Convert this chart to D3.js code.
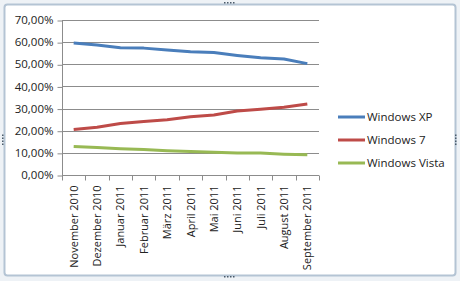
<!DOCTYPE html>
<html>
<head>
<meta charset="utf-8">
<script src="https://cdn.jsdelivr.net/npm/d3@7"></script>
<style>
  body { margin: 0; background: #fff; }
  svg { display: block; }
</style>
</head>
<body>
<div id="chart"></div>
<script>
var months = ["November 2010", "Dezember 2010", "Januar 2011", "Februar 2011", "März 2011",
  "April 2011", "Mai 2011", "Juni 2011", "Juli 2011", "August 2011", "September 2011"];
var windowsXP = [59.6, 58.7, 57.5, 57.3, 56.5, 55.7, 55.3, 54.0, 52.9, 52.4, 50.3];
var windows7 = [20.5, 21.6, 23.3, 24.2, 25.0, 26.3, 27.1, 28.9, 29.7, 30.6, 32.1];
var windowsVista = [12.9, 12.4, 11.9, 11.5, 11.0, 10.6, 10.3, 9.9, 9.9, 9.4, 9.1];
var yTicks = [0, 10, 20, 30, 40, 50, 60, 70];

var series = [
  { name: "Windows XP", values: windowsXP, color: "#4a7ebb" },
  { name: "Windows 7", values: windows7, color: "#be4b48" },
  { name: "Windows Vista", values: windowsVista, color: "#98b954" }
];

const W = 460, H = 281;
const margin = { top: 20, left: 62, right: 141, bottom: 106 };

const svg = d3.select("#chart").append("svg")
  .attr("width", W).attr("height", H);

// excel frame around the chart
svg.append("rect").attr("x", 0).attr("y", 0).attr("width", W).attr("height", H).attr("fill", "#eef2f6");
svg.append("rect")
  .attr("x", 4.5).attr("y", 4.5).attr("width", W - 9).attr("height", H - 10)
  .attr("rx", 3).attr("fill", "#fff").attr("stroke", "#b4c4d4").attr("stroke-width", 2);
[[W / 2, 3], [W / 2, H - 4]].forEach(p => {
  for (let i = -2; i < 2; i++) {
    svg.append("rect").attr("x", p[0] + i * 3).attr("y", p[1] - 1).attr("width", 1.5).attr("height", 1.5).attr("fill", "#4a5a6a");
  }
});
[[3, H / 2], [W - 4, H / 2]].forEach(p => {
  for (let i = -2; i < 2; i++) {
    svg.append("rect").attr("x", p[0] - 1).attr("y", p[1] + i * 3).attr("width", 1.5).attr("height", 1.5).attr("fill", "#4a5a6a");
  }
});

const width = W - margin.left - margin.right;
const height = 175 - margin.top;

const g = svg.append("g").attr("transform", `translate(${margin.left},${margin.top})`);

const x = d3.scaleBand().domain(months).range([0, width]);
const y = d3.scaleLinear().domain([0, 70]).range([height, 0]);

const font = "'Open Sans', 'Liberation Sans', sans-serif";

// gridlines
g.selectAll(".grid").data(yTicks.slice(1)).join("line")
  .attr("x1", 0).attr("x2", width)
  .attr("y1", d => Math.round(y(d)) + 0.5).attr("y2", d => Math.round(y(d)) + 0.5)
  .attr("stroke", "#8c8c8c").attr("stroke-width", 1);

// y axis
const yAxis = g.append("g").attr("transform", "translate(0.5,0)")
  .call(d3.axisLeft(y).tickValues(yTicks).tickSize(5).tickPadding(4)
    .tickFormat(d => d3.format(".2f")(d).replace(".", ",") + "%"));
yAxis.select(".domain").attr("stroke", "#8c8c8c").attr("d", `M0,0V${height}`);
yAxis.selectAll(".tick line").attr("stroke", "#8c8c8c").attr("transform", "translate(0,0.5)");
yAxis.selectAll("text").attr("font-family", font).attr("font-size", 11.5).attr("fill", "#222");

// x axis
const xAxisG = g.append("g").attr("transform", `translate(0,${Math.round(height) + 0.5})`);
xAxisG.append("line").attr("x1", 0).attr("x2", width).attr("stroke", "#8c8c8c");
xAxisG.selectAll(".xt").data(months.concat(["end"])).join("line")
  .attr("x1", (d, i) => Math.round(i * x.step()) + 0.5).attr("x2", (d, i) => Math.round(i * x.step()) + 0.5)
  .attr("y1", 0).attr("y2", 5).attr("stroke", "#8c8c8c");
xAxisG.selectAll(".xl").data(months).join("text")
  .attr("transform", d => `translate(${x(d) + x.bandwidth() / 2 + 4},10) rotate(-90)`)
  .attr("text-anchor", "end")
  .attr("font-family", font).attr("font-size", 11).attr("fill", "#222")
  .text(d => d);

// lines
const line = d3.line()
  .x((d, i) => x(months[i]) + x.bandwidth() / 2)
  .y(d => y(d));

g.selectAll(".series").data(series).join("path")
  .attr("fill", "none")
  .attr("stroke", d => d.color)
  .attr("stroke-width", 3)
  .attr("stroke-linejoin", "round")
  .attr("d", d => line(d.values));

// legend
const legend = svg.append("g").attr("transform", "translate(338,117)");
series.forEach((s, i) => {
  const row = legend.append("g").attr("transform", `translate(0,${i * 23})`);
  row.append("line").attr("x1", 0).attr("x2", 27).attr("stroke", s.color).attr("stroke-width", 3);
  row.append("text").attr("x", 29).attr("y", 4)
    .attr("font-family", font).attr("font-size", 11.5).attr("fill", "#222")
    .text(s.name);
});
</script>
</body>
</html>
